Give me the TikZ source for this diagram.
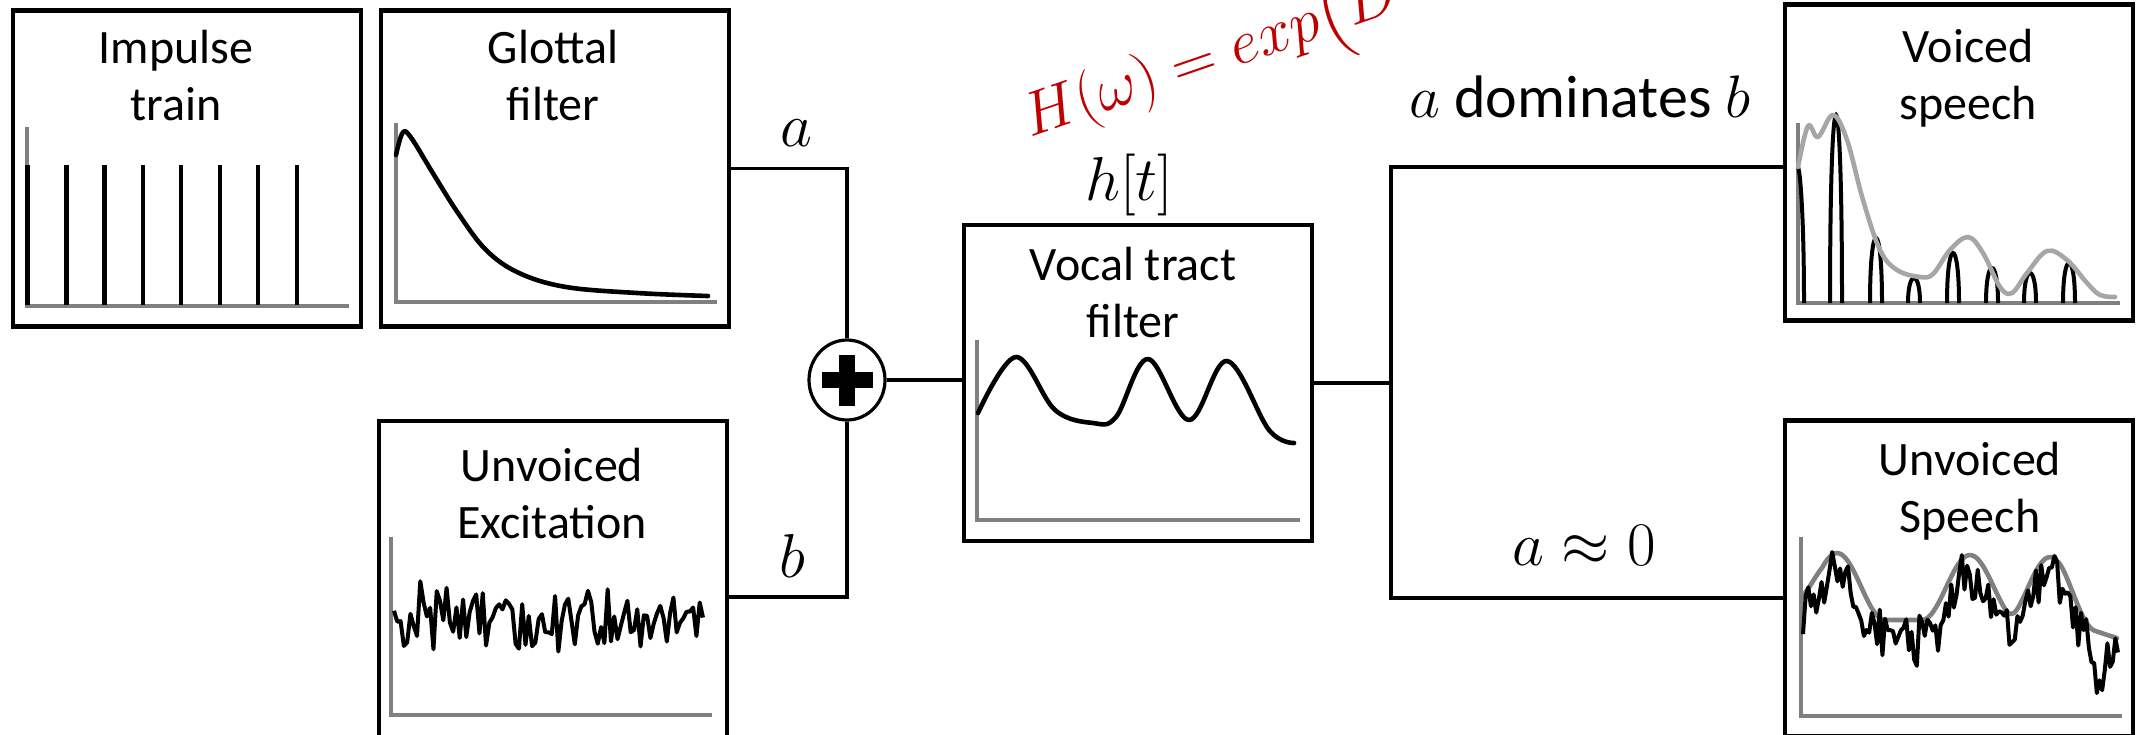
\RequirePackage{fix-cm}
\documentclass[tikz,border=0pt]{standalone}
\usepackage{amsmath}
\usepackage{fontspec}
\setmainfont{Carlito}
\usetikzlibrary{shapes.geometric}
\definecolor{axgray}{HTML}{808080}
\definecolor{envgray}{HTML}{A6A6A6}
\definecolor{darkred}{HTML}{C00000}
\newcommand\vlobe[3]{\draw[lobe] (#1,303) .. controls (#1,{(8*#3-606)/6}) and (#2,{(8*#3-606)/6}) .. (#2,303);}
\begin{document}
\begin{tikzpicture}[x=0.5pt,y=-0.5pt,
  box/.style={draw, line width=2.2pt, rectangle, minimum width=174pt, minimum height=158pt, inner sep=0pt},
  conn/.style={line width=1.8pt},
  axis/.style={draw=axgray, line width=2.4pt},
  curve/.style={line width=2.3pt, line join=round, line cap=round},
  noisy/.style={line width=2pt, line join=round},
  lobe/.style={line width=2pt},
  ttl/.style={anchor=base, inner sep=0pt, font=\fontsize{24}{28.5}\selectfont},
  mlbl/.style={anchor=base, inner sep=0pt, font=\fontsize{31}{37}\selectfont},
  declare function={
    rc(\t)=(abs(\t)<1)*(1+cos(180*\t))/2;
    gu(\x)=620-67*rc((\x-1837)/48)-65*rc((\x-1970)/48)-63*rc((\x-2050)/45)-0.6*max(0,1822-\x)+0.33*max(0,\x-2062);
  }
]
\path[use as bounding box, fill=white] (0,0) rectangle (2136,734);
\clip (0,0) rectangle (2136,734);
\pgfmathsetseed{12345}

% boxes
\node[box] (imp) at (187,168.5) {};
\node[box] (glot) at (555,168.5) {};
\node[box] (unv) at (553,579) {};
\node[box] (vocal) at (1138,383) {};
\node[box] (voiced) at (1959,162.5) {};
\node[box] (unvs) at (1959,578.5) {};

% titles
\node[ttl] (timp) at (176,63) {\begin{tabular}[t]{@{}c@{}}Impulse\\train\end{tabular}};
\node[ttl] (tglot) at (553,63) {\begin{tabular}[t]{@{}c@{}}Glottal\\filter\end{tabular}};
\node[ttl] (tunv) at (552,481) {\begin{tabular}[t]{@{}c@{}}Unvoiced\\Excitation\end{tabular}};
\node[ttl] (tvocal) at (1133,280) {\begin{tabular}[t]{@{}c@{}}Vocal tract\\filter\end{tabular}};
\node[ttl] (tvoiced) at (1968,62) {\begin{tabular}[t]{@{}c@{}}Voiced\\speech\end{tabular}};
\node[ttl] (tunvs) at (1970,475) {\begin{tabular}[t]{@{}c@{}}Unvoiced\\Speech\end{tabular}};

% summation
\node[draw, ellipse, line width=1.6pt, minimum width=38pt, minimum height=40pt, inner sep=0pt] (sum) at (847,380) {};
\fill ([shift={(-25.5,-8)}]sum.center) rectangle ([shift={(25.5,8)}]sum.center);
\fill ([shift={(-8,-25.5)}]sum.center) rectangle ([shift={(8,25.5)}]sum.center);

% connectors
\coordinate (bj) at (848,597);
\coordinate (st) at (1391,167);
\coordinate (sb) at (1391,598);
\draw[conn] (glot.east) -| (sum.north);
\draw[conn] (unv.east |- bj) -| (sum.south);
\draw[conn] (sum.east) -- (sum.east -| vocal.west);
\draw[conn] (vocal.east) -- (vocal.east -| st);
\draw[conn] (voiced.west |- st) -- (st) -- (sb) -- (sb -| unvs.west);

% labels
\node[mlbl] (la) at (796,146) {$a$};
\node[mlbl] (lb) at (792,577) {$b$};
\node[mlbl] (lh) at (1129,200) {$h[t]$};
\node[anchor=base, inner sep=0pt, font=\fontsize{30}{36}\selectfont] (ldom) at (1580,117) {$a$ dominates $b$};
\node[mlbl] (lzero) at (1584,565) {$a \approx 0$};
\node[anchor=base west, inner sep=0pt, rotate=19, text=darkred, font=\fontsize{31}{37}\selectfont] (form) at (1030,138) {$H(\omega) = exp\big(D$};

% impulse train plot
\draw[axis] (27,127) -- (27,306) -- (349,306);
\foreach \xx in {27.4,66.5,104.3,143,181,220,258,297}
  \draw[line width=2.2pt] (\xx,165) -- (\xx,305);

% glottal plot
\draw[axis] (396,123) -- (396,302) -- (717,302);
\draw[curve] plot[smooth, tension=0.6] coordinates {(396,155) (402.5,133) (410.6,137) (434,175) (458,213) (486,250) (519,273) (566,287) (637,293) (708,296)};

% unvoiced excitation plot
\draw[axis] (391,537) -- (391,715) -- (712,715);
\draw[noisy] plot[domain=394:703, samples=95] (\x, {620+27*rand+14*rand});

% vocal tract plot
\draw[axis] (977,340) -- (977,520) -- (1300,520);
\draw[curve] plot[smooth, tension=0.6] coordinates {(978,413) (1016,357) (1055,410) (1093,423) (1116,417) (1148,359) (1189,420) (1227,361) (1269,430) (1294,443)};

% voiced speech plot
\draw[axis] (1798,123) -- (1798,303) -- (2120,303);
\draw[lobe] (1798,167) .. controls (1801,175) and (1804,230) .. (1804,303);
\vlobe{1830}{1842}{115}
\vlobe{1870}{1882}{238}
\vlobe{1908}{1920}{278}
\vlobe{1947}{1959}{253}
\vlobe{1986}{1998}{268}
\vlobe{2024}{2036}{273}
\vlobe{2063}{2075}{263}
\draw[curve, envgray] plot[smooth, tension=0.6] coordinates {(1798,167) (1808,126) (1818,137) (1833,115) (1847,140) (1863,200) (1880,250) (1897,270) (1920,277) (1933,274) (1950,250) (1968,237) (1983,253) (2000,287) (2012,293) (2027,273) (2047,251) (2067,260) (2087,283) (2100,295) (2115,297)};

% unvoiced speech plot
\draw[axis] (1801,537) -- (1801,716) -- (2122,716);
\draw[curve, axgray] plot[domain=1801:2117, samples=120, smooth] (\x, {gu(\x)});
\draw[noisy] plot[domain=1803:2118, samples=120] (\x, {gu(\x)+20+22*rand+10*rand+45*rc((\x-2100)/12)});
\end{tikzpicture}
\end{document}
